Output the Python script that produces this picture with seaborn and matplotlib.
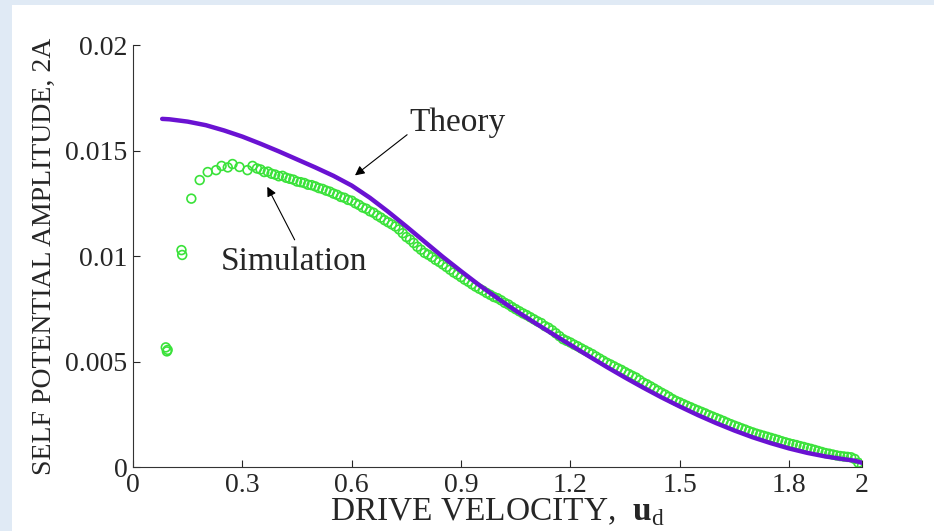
"""Self potential amplitude versus drive velocity: theory curve and simulation points."""

import matplotlib
matplotlib.use("Agg")
import matplotlib.pyplot as plt
from matplotlib.patches import Rectangle
import numpy as np
import pandas as pd
import seaborn as sns

# Theory curve
theory_u = [0.08, 0.10, 0.15, 0.20, 0.25, 0.30, 0.35, 0.40, 0.45, 0.50, 0.55,
            0.60, 0.65, 0.70, 0.75, 0.80, 0.85, 0.90, 0.95, 1.00, 1.05, 1.10,
            1.15, 1.20, 1.25, 1.30, 1.35, 1.40, 1.45, 1.50, 1.55, 1.60, 1.65,
            1.70, 1.75, 1.80, 1.85, 1.90, 1.95, 1.98, 2.00]
theory_amp = [0.01650, 0.01648, 0.01637, 0.01620, 0.01595, 0.01566, 0.01532,
              0.01496, 0.01458, 0.01420, 0.01380, 0.01334, 0.01276, 0.01210,
              0.01140, 0.01068, 0.00996, 0.00928, 0.00862, 0.00800, 0.00741,
              0.00686, 0.00632, 0.00579, 0.00526, 0.00474, 0.00424, 0.00376,
              0.00330, 0.00287, 0.00246, 0.00208, 0.00173, 0.00141, 0.00113,
              0.00088, 0.00067, 0.00050, 0.00037, 0.00030, 0.00020]

# Simulation, low-velocity points (sparse)
sim_u_low = [0.090, 0.093, 0.095, 0.133, 0.135, 0.160, 0.183, 0.205, 0.228,
             0.243, 0.260, 0.273, 0.292, 0.314, 0.328]
sim_amp_low = [0.00567, 0.00548, 0.00555, 0.01028, 0.01005, 0.01272, 0.01360,
               0.01398, 0.01407, 0.01427, 0.01420, 0.01436, 0.01422, 0.01407,
               0.01427]

# Simulation, dense sweep from 0.34 to 2.00 in steps of 0.01
sim_u_sweep = np.round(np.linspace(0.34, 2.00, 167), 2)
sim_amp_sweep = [
    0.01415, 0.01410, 0.01398, 0.01400, 0.01390, 0.01386, 0.01378, 0.01380, 0.01371, 0.01366,
    0.01362, 0.01353, 0.01350, 0.01346, 0.01338, 0.01336, 0.01330, 0.01322, 0.01318, 0.01310,
    0.01305, 0.01296, 0.01290, 0.01280, 0.01276, 0.01266, 0.01262, 0.01250, 0.01242, 0.01230,
    0.01224, 0.01212, 0.01205, 0.01192, 0.01182, 0.01170, 0.01160, 0.01150, 0.01140, 0.01126,
    0.01108, 0.01090, 0.01078, 0.01062, 0.01044, 0.01030, 0.01015, 0.01006, 0.00995, 0.00982,
    0.00972, 0.00960, 0.00948, 0.00935, 0.00922, 0.00912, 0.00900, 0.00888, 0.00878, 0.00866,
    0.00855, 0.00845, 0.00836, 0.00825, 0.00816, 0.00806, 0.00800, 0.00790, 0.00778, 0.00770,
    0.00758, 0.00748, 0.00738, 0.00728, 0.00720, 0.00710, 0.00700, 0.00690, 0.00682, 0.00668,
    0.00660, 0.00648, 0.00634, 0.00620, 0.00606, 0.00598, 0.00590, 0.00580, 0.00572, 0.00562,
    0.00553, 0.00544, 0.00535, 0.00524, 0.00514, 0.00504, 0.00494, 0.00486, 0.00477, 0.00468,
    0.00460, 0.00450, 0.00441, 0.00432, 0.00424, 0.00412, 0.00400, 0.00392, 0.00382, 0.00372,
    0.00362, 0.00352, 0.00343, 0.00333, 0.00322, 0.00313, 0.00306, 0.00298, 0.00290, 0.00283,
    0.00275, 0.00268, 0.00261, 0.00254, 0.00246, 0.00239, 0.00232, 0.00225, 0.00218, 0.00210,
    0.00203, 0.00196, 0.00190, 0.00183, 0.00177, 0.00170, 0.00164, 0.00158, 0.00153, 0.00148,
    0.00143, 0.00138, 0.00133, 0.00128, 0.00122, 0.00117, 0.00112, 0.00108, 0.00104, 0.00099,
    0.00095, 0.00090, 0.00086, 0.00081, 0.00076, 0.00071, 0.00066, 0.00063, 0.00059, 0.00055,
    0.00052, 0.00050, 0.00048, 0.00046, 0.00038, 0.00020, 0.00006,
]

x_ticks = [0, 0.3, 0.6, 0.9, 1.2, 1.5, 1.8, 2]
x_tick_labels = ["0", "0.3", "0.6", "0.9", "1.2", "1.5", "1.8", "2"]
y_ticks = [0, 0.005, 0.01, 0.015, 0.02]
y_tick_labels = ["0", "0.005", "0.01", "0.015", "0.02"]

PURPLE = "#6a12d2"
GREEN = "#3ae23a"


def main() -> None:
    sns.set_style("ticks")
    plt.rcParams["font.family"] = ["Liberation Serif", "DejaVu Serif"]
    plt.rcParams["mathtext.fontset"] = "custom"
    plt.rcParams["mathtext.rm"] = "Liberation Serif"
    plt.rcParams["mathtext.bf"] = "Liberation Serif:bold"

    theory = pd.DataFrame({"u": theory_u, "amp": theory_amp})
    sim = pd.DataFrame({
        "u": list(sim_u_low) + list(sim_u_sweep),
        "amp": sim_amp_low + sim_amp_sweep,
    })

    fig = plt.figure(figsize=(9.34, 5.31), dpi=100, facecolor="#e0eaf5")
    # white panel, leaving a light blue strip at the left and top
    fig.patches.append(Rectangle((12 / 934, 0), 1 - 12 / 934, 526 / 531,
                                 transform=fig.transFigure, facecolor="white",
                                 edgecolor="none", zorder=-10))
    ax = fig.add_axes([0.1424, 0.1205, 0.7805, 0.7947])
    ax.patch.set_alpha(0)

    sns.scatterplot(data=sim, x="u", y="amp", ax=ax, marker="o", s=40,
                    facecolor="none", edgecolor=GREEN, linewidth=1.2, zorder=2)
    sns.lineplot(data=theory, x="u", y="amp", ax=ax, color=PURPLE,
                 linewidth=3.2, zorder=3)

    ax.set_xlim(0, 2)
    ax.set_ylim(0, 0.02)
    ax.set_xticks(x_ticks)
    ax.set_xticklabels(x_tick_labels)
    ax.set_yticks(y_ticks)
    ax.set_yticklabels(y_tick_labels)
    ax.tick_params(direction="in", length=5, width=0.8, labelsize=20, pad=4)
    sns.despine(ax=ax)
    for side in ("left", "bottom"):
        ax.spines[side].set_linewidth(0.8)
        ax.spines[side].set_color("#333333")

    ax.set_xlabel(r"DRIVE VELOCITY,  $\mathbf{u}_\mathrm{d}$", fontsize=24, labelpad=-1)
    ax.set_ylabel("SELF POTENTIAL AMPLITUDE, 2A", fontsize=20, labelpad=6)

    arrow = dict(arrowstyle="-|>", color="black", lw=0.8, mutation_scale=14)
    ax.annotate("", xy=(0.603, 0.01374), xytext=(0.758, 0.01583), arrowprops=arrow)
    ax.text(0.890, 0.01592, "Theory", fontsize=24, ha="center", va="baseline")
    ax.annotate("", xy=(0.365, 0.01340), xytext=(0.447, 0.01065), arrowprops=arrow)
    ax.text(0.442, 0.00934, "Simulation", fontsize=24, ha="center", va="baseline")

    fig.savefig("out.png", dpi=100, facecolor=fig.get_facecolor())
    plt.close(fig)


if __name__ == "__main__":
    main()
